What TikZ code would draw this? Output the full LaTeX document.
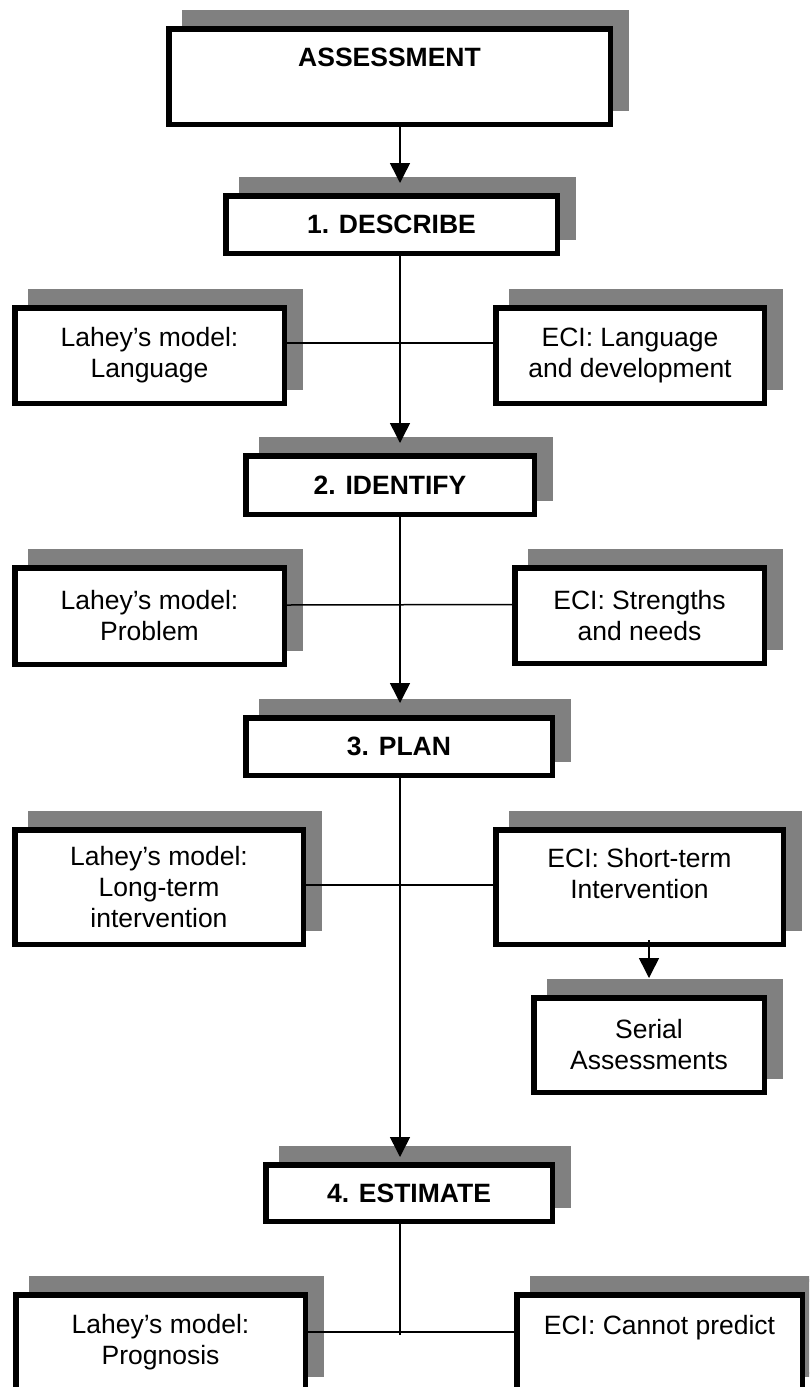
\documentclass[tikz,border=0pt]{standalone}
\usepackage{fontspec}
\setmainfont{Liberation Sans}
\usetikzlibrary{arrows.meta,shadows}
\definecolor{shadowgrey}{RGB}{128,128,128}
\newcommand{\padbelow}[1]{\rule[-#1]{0pt}{#1}}
\tikzset{
  box/.style={draw, line width=5.5pt, fill=white, inner sep=0pt, align=center,
    font=\fontsize{26.5pt}{31pt}\selectfont,
    drop shadow={shadow xshift=16pt, shadow yshift=16pt, opacity=1,
      fill=shadowgrey, draw=shadowgrey, line width=5.5pt}},
  stage/.style={box, font=\fontsize{26.5pt}{31pt}\selectfont\bfseries},
  link/.style={line width=1.5pt},
  flow/.style={link, -{Triangle[width=20pt,length=20pt]}},
}
\begin{document}
\begin{tikzpicture}[x=1pt, y=-1pt]
  \useasboundingbox (0,0) rectangle (809,1387);
  \clip (0,0) rectangle (809,1387);
  % main column
  \coordinate (spine) at (400,0);
  \node[stage, minimum width=441.5pt, minimum height=95.5pt] (assess) at (389.5,76.5) {ASSESSMENT\padbelow{39pt}};
  \node[stage, minimum width=331.5pt, minimum height=57.5pt] (describe) at (391.5,224.5) {1. DESCRIBE};
  \node[stage, minimum width=288.5pt, minimum height=58.5pt] (identify) at (390,485) {2. IDENTIFY};
  \node[stage, minimum width=306.5pt, minimum height=57.5pt] (plan) at (399,746.5) {3. PLAN};
  \node[stage, minimum width=286.5pt, minimum height=56.5pt] (estimate) at (409,1193) {4. ESTIMATE};
  % Lahey side
  \node[box, minimum width=269.5pt, minimum height=95.5pt] (lahey1) at (149.5,355.5) {Lahey’s model:\\Language};
  \node[box, minimum width=269.5pt, minimum height=96.5pt] (lahey2) at (149.5,616) {Lahey’s model:\\Problem};
  \node[box, minimum width=288.5pt, minimum height=114.5pt] (lahey3) at (159,887) {Lahey’s model:\\Long-term\\intervention};
  \node[box, minimum width=289.5pt, minimum height=95.5pt] (lahey4) at (160.5,1342.5) {Lahey’s model:\\Prognosis};
  % ECI side
  \node[box, minimum width=268.5pt, minimum height=95.5pt] (eci1) at (630,355.5) {ECI: Language\\and development};
  \node[box, minimum width=249.5pt, minimum height=95.5pt] (eci2) at (639.5,615.5) {ECI: Strengths\\and needs};
  \node[box, minimum width=287.5pt, minimum height=114.5pt] (eci3) at (639.5,887) {ECI: Short-term\\Intervention\padbelow{27pt}};
  \node[box, minimum width=230.5pt, minimum height=94.5pt] (serial) at (649,1045) {Serial\\Assessments};
  \node[box, minimum width=285.5pt, minimum height=95.5pt] (eci4) at (659.5,1342.5) {ECI: Cannot predict\padbelow{35pt}};
  \coordinate (stub) at (400,1335);

  \draw[flow, shorten >=10pt] (assess.south -| spine) -- (describe.north -| spine);
  \draw[flow, shorten >=10pt] (describe.south -| spine) -- (identify.north -| spine);
  \draw[flow, shorten >=12pt] (identify.south -| spine) -- (plan.north -| spine);
  \draw[flow, shorten >=5pt] (plan.south -| spine) -- (estimate.north -| spine);
  \draw[link] (estimate.south -| spine) -- (stub);
  \draw[flow, shorten >=17pt] ([yshift=7pt]eci3.south -| serial.north) -- (serial.north);

  \draw[link] ([yshift=12.5pt]lahey1.east) -- ([yshift=12.5pt]eci1.west);
  \draw[link] ([yshift=11pt]lahey2.east) -- ([yshift=11pt]eci2.west);
  \draw[link] ([yshift=2pt]lahey3.east) -- ([yshift=2pt]eci3.west);
  \draw[link] ([yshift=10.5pt]lahey4.east) -- ([yshift=10.5pt]eci4.west);
\end{tikzpicture}
\end{document}
